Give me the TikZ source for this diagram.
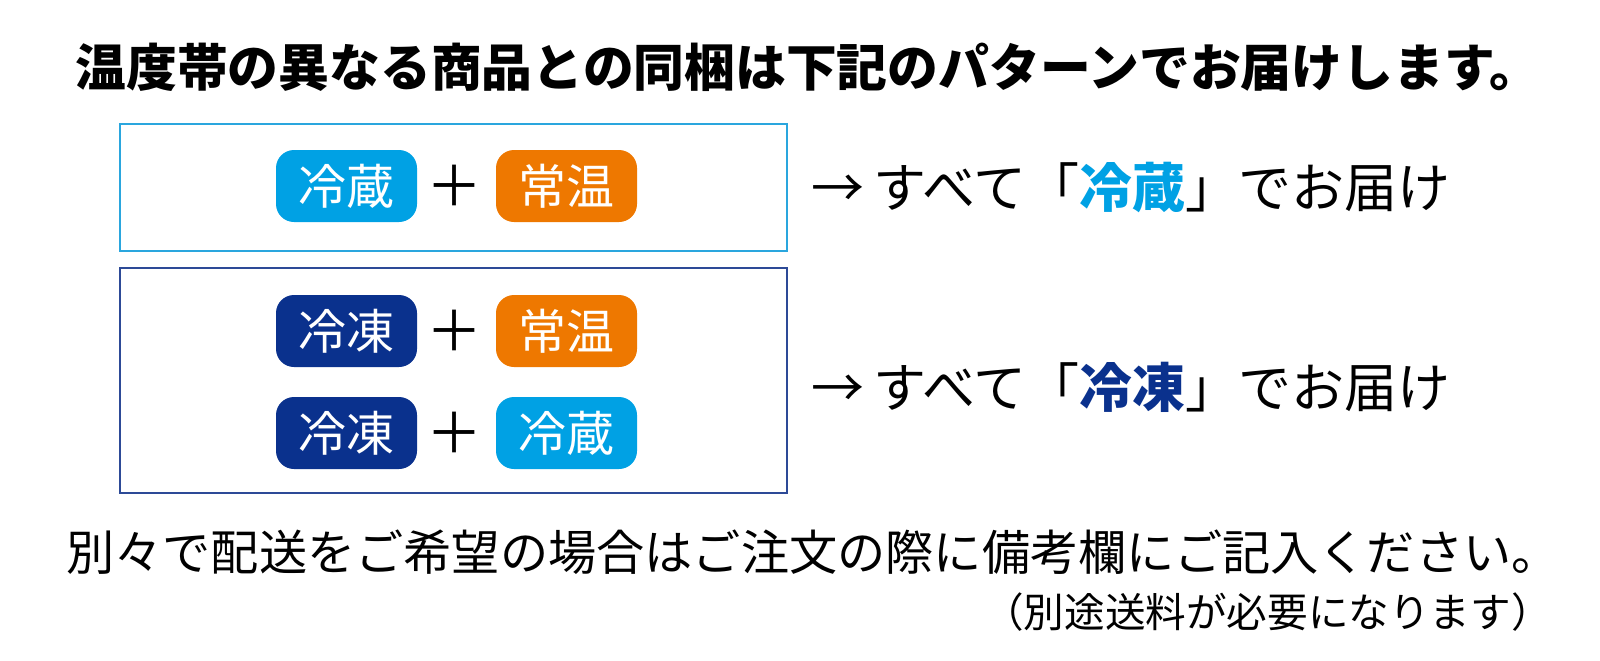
\documentclass[tikz,border=0pt]{standalone}
\usepackage{fontspec}
\newfontfamily\jp{Noto Sans CJK JP}
\definecolor{lblue}{HTML}{00A1E4}
\definecolor{dblue}{HTML}{0A318D}
\definecolor{orng}{HTML}{EE7800}
\definecolor{lframe}{HTML}{2AA6DE}
\definecolor{dframe}{HTML}{2D4A97}
\tikzset{
  badge/.style={rounded corners=9pt, minimum width=70.5pt, minimum height=36pt, inner sep=0pt, text=white, font=\jp\fontsize{24}{24}\selectfont},
  plus/.style={font=\jp\fontsize{28}{28}\selectfont, inner sep=0pt},
  frame/.style={line width=1pt},
  big/.style={font=\jp\fontsize{26.5}{26.5}\selectfont, inner sep=0pt}
}
\begin{document}
\begin{tikzpicture}[x=0.5pt,y=-0.5pt]
\useasboundingbox (0,0) rectangle (1600,660);
\node[font=\jp\bfseries\fontsize{25.4}{25.4}\selectfont, inner sep=0pt] (title) at (808,67) {温度帯の異なる商品との同梱は下記のパターンでお届けします。};
\draw[frame, lframe] (120,124) rectangle (787,251);
\draw[frame, dframe] (120,268) rectangle (787,493);
% row 1
\node[badge, fill=lblue] (a1) at (346.5,186) {冷蔵};
\node[plus] (p1) at (454.5,186) {＋};
\node[badge, fill=orng] (b1) at (566.5,186) {常温};
% row 2
\node[badge, fill=dblue] (a2) at (346.5,331) {冷凍};
\node[plus] (p2) at (454.5,331) {＋};
\node[badge, fill=orng] (b2) at (566.5,331) {常温};
% row 3
\node[badge, fill=dblue] (a3) at (346.5,433) {冷凍};
\node[plus] (p3) at (454.5,433) {＋};
\node[badge, fill=lblue] (b3) at (566.5,433) {冷蔵};
% right texts
\node[big, anchor=west] (r1) at (811,188) {→\hspace{4.5pt}すべて「{\bfseries\color{lblue}冷蔵}」でお届け};
\node[big, anchor=west] (r2) at (811,387) {→\hspace{4.5pt}すべて「{\bfseries\color{dblue}冷凍}」でお届け};
% bottom
\node[font=\jp\fontsize{24.1}{24.1}\selectfont, inner sep=0pt] (n1) at (813,552) {別々で配送をご希望の場合はご注文の際に備考欄にご記入ください。};
\node[font=\jp\fontsize{20.3}{20.3}\selectfont, inner sep=0pt, anchor=east] (n2) at (1552,612) {（別途送料が必要になります）};
\end{tikzpicture}
\end{document}
